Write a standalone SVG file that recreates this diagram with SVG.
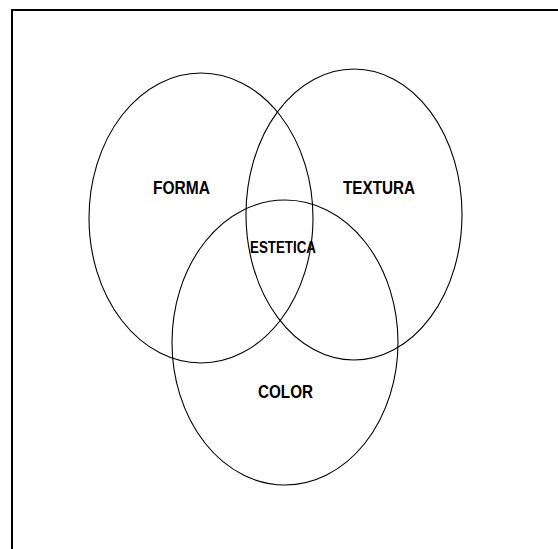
<svg xmlns="http://www.w3.org/2000/svg" width="558" height="549" viewBox="0 0 558 549">
<style>
.c{fill:none;stroke:#000;stroke-width:1.1}
.t{font-family:"Liberation Sans",Arial,sans-serif;font-weight:bold;fill:#000}
</style>
<rect width="558" height="549" fill="#fff"/>
<path d="M12,549 V10 H558" fill="none" stroke="#000" stroke-width="2"/>
<g id="forma">
<ellipse class="c" cx="201" cy="218" rx="112" ry="145"/>
<text class="t" x="153" y="194" font-size="19" textLength="57" lengthAdjust="spacingAndGlyphs">FORMA</text>
</g>
<g id="textura">
<ellipse class="c" cx="354" cy="214.5" rx="108" ry="145.5"/>
<text class="t" x="343" y="194" font-size="19" textLength="72" lengthAdjust="spacingAndGlyphs">TEXTURA</text>
</g>
<g id="color">
<ellipse class="c" cx="285" cy="342.5" rx="113" ry="142.5"/>
<text class="t" x="258" y="398" font-size="19" textLength="55" lengthAdjust="spacingAndGlyphs">COLOR</text>
</g>
<g id="estetica">
<text class="t" x="250" y="253" font-size="16" textLength="66" lengthAdjust="spacingAndGlyphs">ESTETICA</text>
</g>
<g id="connectors"/>
</svg>
